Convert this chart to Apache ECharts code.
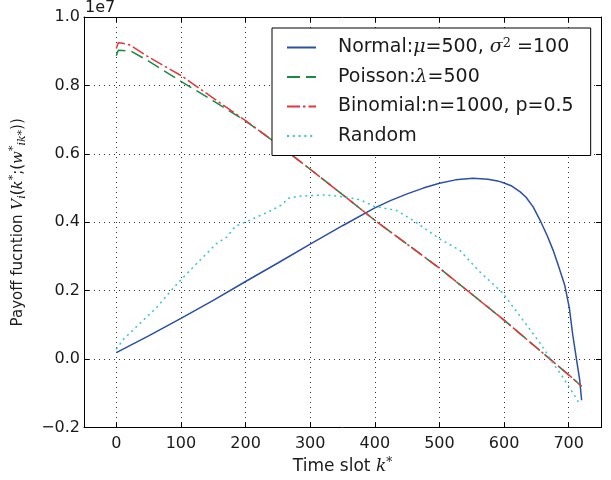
<!DOCTYPE html>
<html><head><meta charset="utf-8">
<script src="https://cdn.jsdelivr.net/npm/echarts@6/dist/echarts.min.js"></script>
<style>html,body{margin:0;padding:0;background:#fff}#c{width:611px;height:480px}</style>
</head><body><div id="c"></div>
<script>
// Tick values
const xTicks = [0, 100, 200, 300, 400, 500, 600, 700];
const yTickStep = 0.2;
// Values in units of 1e7
const normalX = [0, 50, 100, 150, 200, 250, 300, 350, 400, 425, 450, 475, 500, 525, 552, 575, 590, 600, 612, 625, 634, 645, 657, 667, 676, 685, 694, 701, 706, 712, 717, 720];
const normalY = [0.019, 0.068, 0.119, 0.172, 0.227, 0.281, 0.336, 0.390, 0.442, 0.464, 0.483, 0.500, 0.514, 0.524, 0.529, 0.526, 0.521, 0.515, 0.506, 0.489, 0.473, 0.445, 0.401, 0.360, 0.318, 0.268, 0.215, 0.150, 0.075, 0.000, -0.060, -0.120];

const poissonX = [0, 3, 10, 24, 50, 100, 150, 200, 250, 300, 350, 400, 450, 500, 550, 600, 650, 700, 720];
const poissonY = [0.887, 0.903, 0.902, 0.899, 0.871, 0.812, 0.755, 0.696, 0.628, 0.555, 0.481, 0.406, 0.336, 0.266, 0.190, 0.114, 0.034, -0.046, -0.079];

const binomialX = [0, 3, 10, 21, 50, 100, 150, 200, 250, 300, 350, 400, 450, 500, 550, 600, 650, 700, 720];
const binomialY = [0.908, 0.925, 0.923, 0.918, 0.883, 0.829, 0.763, 0.697, 0.628, 0.555, 0.481, 0.406, 0.336, 0.266, 0.190, 0.114, 0.034, -0.046, -0.079];

const randomX = [0, 11, 39, 62, 86, 100, 122, 140, 155, 171, 184, 200, 217, 238, 256, 266, 281, 300, 323, 340, 356, 377, 400, 433, 459, 500, 531, 562, 598, 621, 642, 658, 675, 691, 709, 718];
const randomY = [0.029, 0.058, 0.109, 0.150, 0.203, 0.232, 0.275, 0.309, 0.338, 0.357, 0.388, 0.401, 0.415, 0.433, 0.451, 0.470, 0.476, 0.478, 0.480, 0.477, 0.473, 0.466, 0.446, 0.435, 0.406, 0.352, 0.319, 0.256, 0.193, 0.135, 0.082, 0.041, -0.010, -0.053, -0.106, -0.135];

const seriesNames = ['Normal', 'Poisson', 'Binomial', 'Random'];
const colors = ['#2b4fa6', '#1b8a47', '#e2373c', '#36c6c9'];

function pairs(xs, ys) { return xs.map((x, i) => [x, ys[i]]); }

const SANS = 'DejaVu Sans';
const MATH = 'DejaVu Serif';
const TXT = '#1a1a1a';

const legendText = {
  Normal: '{sp|}{t|Normal:}{m|\u03bc}{t|=500, }{m|\u03c3}{sup|2}{t| =100}',
  Poisson: '{sp|}{t|Poisson:}{m|\u03bb}{t|=500}',
  Binomial: '{sp|}{t|Binomial:n=1000, p=0.5}',
  Random: '{sp|}{t|Random}'
};

const chart = echarts.init(document.getElementById('c'), null, {renderer: 'canvas'});

const axisLineStyle = {show: true, onZero: false, lineStyle: {color: '#000', width: 1}};
const gridLine = {show: true, lineStyle: {color: '#333', width: 1, type: [1, 4]}};

chart.setOption({
  animation: false,
  backgroundColor: '#fff',
  grid: {left: 84, right: 10, top: 17, bottom: 47, containLabel: false},
  graphic: [{
    type: 'text', left: 85, top: 0,
    style: {text: '1e7', font: '16px "DejaVu Sans"', fill: TXT}
  }],
  legend: {
    data: seriesNames,
    orient: 'vertical',
    left: 272, top: 28,
    padding: [9, 17, 10, 14],
    itemWidth: 29, itemHeight: 14, itemGap: 10.5,
    borderColor: '#000', borderWidth: 1, borderRadius: 0,
    backgroundColor: '#fff',
    itemStyle: {opacity: 0, borderWidth: 0},
    formatter: name => legendText[name],
    textStyle: {
      fontFamily: SANS, fontSize: 19, color: TXT,
      rich: {
        sp: {width: 17},
        t: {fontFamily: SANS, fontSize: 19, color: TXT, lineHeight: 21},
        m: {fontFamily: MATH, fontStyle: 'italic', fontSize: 19, color: TXT, lineHeight: 21},
        sup: {fontFamily: MATH, fontSize: 13, color: TXT, lineHeight: 12, verticalAlign: 'top'}
      }
    }
  },
  xAxis: [{
    type: 'value', min: -50, max: 750, position: 'bottom',
    axisLine: axisLineStyle,
    axisTick: {show: true, inside: true, length: 5, customValues: xTicks, lineStyle: {color: '#000'}},
    axisLabel: {customValues: xTicks, margin: 8, fontFamily: SANS, fontSize: 16, color: TXT},
    splitLine: gridLine,
    name: '{t|Time slot }{m|k}{sup|*}',
    nameLocation: 'middle', nameGap: 27,
    nameTextStyle: {
      fontFamily: SANS, fontSize: 17, color: TXT,
      rich: {
        t: {fontFamily: SANS, fontSize: 17, color: TXT, lineHeight: 20},
        m: {fontFamily: MATH, fontStyle: 'italic', fontSize: 17, color: TXT, lineHeight: 20},
        sup: {fontFamily: MATH, fontSize: 12, color: TXT, lineHeight: 11, verticalAlign: 'top'}
      }
    }
  }, {
    type: 'value', min: -50, max: 750, position: 'top',
    axisLine: axisLineStyle,
    axisTick: {show: true, inside: true, length: 5, customValues: xTicks, lineStyle: {color: '#000'}},
    axisLabel: {show: false},
    splitLine: {show: false}
  }],
  yAxis: [{
    type: 'value', min: -0.2, max: 1.0, interval: yTickStep, position: 'left',
    axisLine: axisLineStyle,
    axisTick: {show: true, inside: true, length: 5, lineStyle: {color: '#000'}},
    axisLabel: {
      margin: 4, fontFamily: SANS, fontSize: 16, color: TXT,
      formatter: v => (v < -1e-9 ? '\u2212' : '') + Math.abs(v).toFixed(1)
    },
    splitLine: gridLine,
    name: '{t|Payoff fucntion }{m|V}{sub|i}{t|(}{m|k}{sup|*}{t|;(}{m|w}{sup|*}{sub|ik*}{t|))}',
    nameLocation: 'middle', nameRotate: 90, nameGap: 56,
    nameTextStyle: {
      fontFamily: SANS, fontSize: 15, color: TXT,
      rich: {
        t: {fontFamily: SANS, fontSize: 15, color: TXT, lineHeight: 20},
        m: {fontFamily: MATH, fontStyle: 'italic', fontSize: 15, color: TXT, lineHeight: 20},
        sup: {fontFamily: MATH, fontSize: 11, color: TXT, lineHeight: 10, verticalAlign: 'top'},
        sub: {fontFamily: MATH, fontStyle: 'italic', fontSize: 11, color: TXT, lineHeight: 10, verticalAlign: 'bottom'}
      }
    }
  }, {
    type: 'value', min: -0.2, max: 1.0, interval: yTickStep, position: 'right',
    axisLine: axisLineStyle,
    axisTick: {show: true, inside: true, length: 5, lineStyle: {color: '#000'}},
    axisLabel: {show: false},
    splitLine: {show: false}
  }],
  series: [
    {name: 'Normal', type: 'line', data: pairs(normalX, normalY), showSymbol: false, symbol: 'none',
     color: colors[0], lineStyle: {color: colors[0], width: 1.5, type: 'solid'}},
    {name: 'Poisson', type: 'line', data: pairs(poissonX, poissonY), showSymbol: false, symbol: 'none',
     color: colors[1], lineStyle: {color: colors[1], width: 1.5, type: [13, 6]}},
    {name: 'Binomial', type: 'line', data: pairs(binomialX, binomialY), showSymbol: false, symbol: 'none',
     color: colors[2], lineStyle: {color: colors[2], width: 1.5, type: [13, 3, 2.5, 3]}},
    {name: 'Random', type: 'line', data: pairs(randomX, randomY), showSymbol: false, symbol: 'none',
     color: colors[3], lineStyle: {color: colors[3], width: 1.5, type: [2, 3.8]}}
  ]
});
</script>
</body></html>
